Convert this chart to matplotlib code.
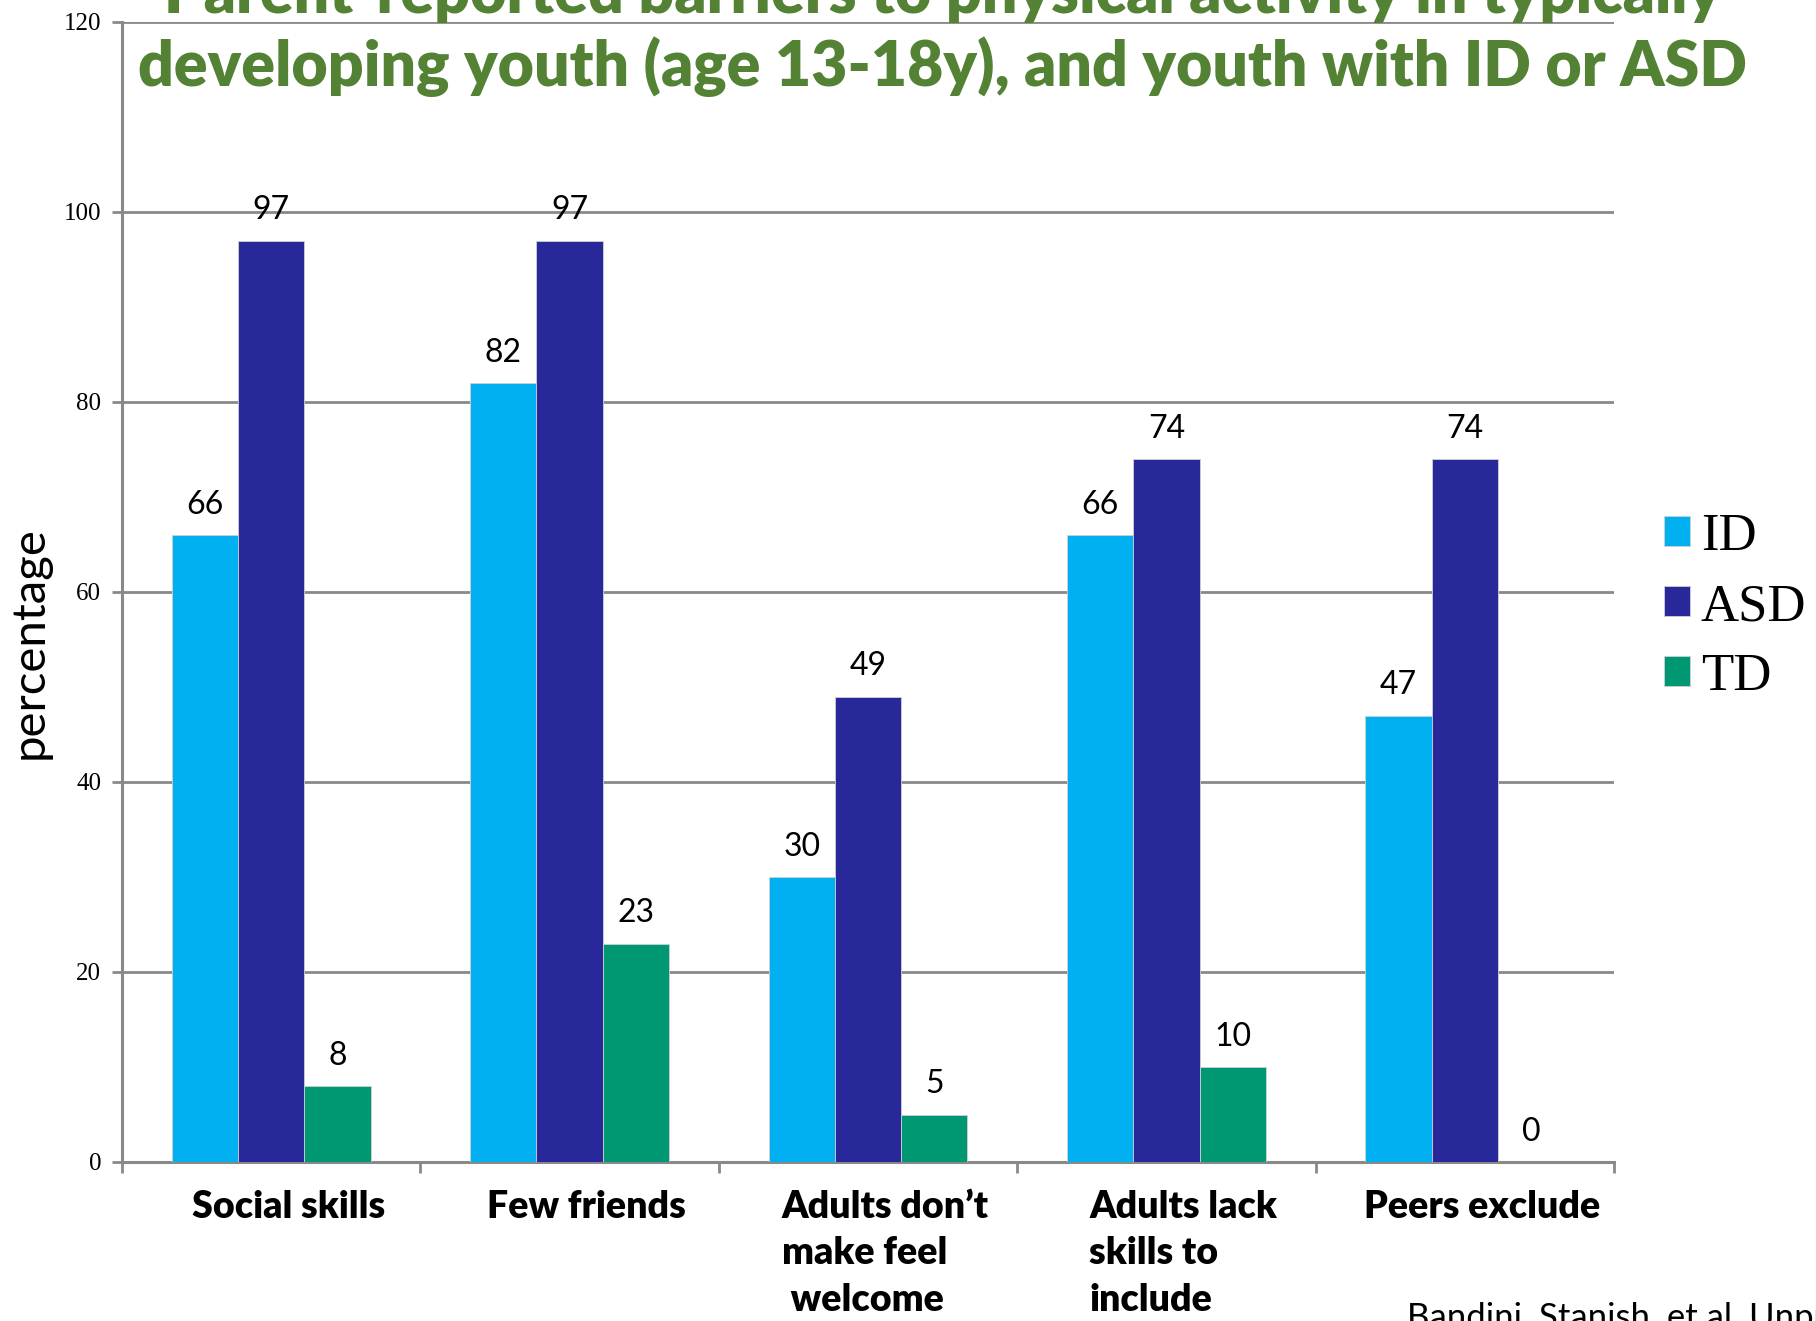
import matplotlib
matplotlib.use("Agg")
import matplotlib.pyplot as plt
import matplotlib.transforms as mtransforms
from matplotlib.patches import Patch
import numpy as np

categories = ["Social skills", "Few friends", "Adults don\u2019t\nmake feel\n welcome",
              "Adults lack\nskills to\ninclude", "Peers exclude"]
series_names = ["ID", "ASD", "TD"]
id_vals = [66, 82, 30, 66, 47]
asd_vals = [97, 97, 49, 74, 74]
td_vals = [8, 23, 5, 10, 0]
colors = ["#00B0F0", "#28289A", "#009872"]
yticks = [0, 20, 40, 60, 80, 100, 120]

title_line1 = "Parent-reported barriers to physical activity in typically"
title_line2 = "developing youth (age 13-18y), and youth with ID or ASD"
ylabel = "percentage"
source = "Bandini, Stanish, et al. Unpublished"

SANS = ["Lato", "DejaVu Sans"]
SERIF = ["Liberation Serif", "DejaVu Serif"]
GRID = "#898989"

fig = plt.figure(figsize=(18.16, 13.21), dpi=100)
ax = fig.add_axes([122/1816, 159/1321, (1614-122)/1816, (1299-159)/1321])

x = np.arange(len(categories))
w = 0.222
for i, (vals, c) in enumerate(zip([id_vals, asd_vals, td_vals], colors)):
    pos = x + (i - 1) * w
    ax.bar(pos, vals, width=w, color=c, edgecolor="#D0D0D0", linewidth=0.6, zorder=3,
           label=series_names[i])
    for p, v in zip(pos, vals):
        ax.annotate(str(v), (p, v), xytext=(0, 11), textcoords="offset points",
                    ha="center", va="bottom", fontsize=23, family=SANS, color="black")

ax.set_xlim(-0.5, len(categories) - 0.5)
ax.set_ylim(0, 120)
ax.set_yticks(yticks)
ax.set_yticklabels([str(t) for t in yticks], family=SERIF, fontsize=18)
ax.yaxis.grid(True, color=GRID, linewidth=2, zorder=0)
ax.set_axisbelow(True)

ax.set_xticks(x)
ax.set_xticklabels(categories, family=SANS, fontweight="heavy", fontsize=27,
                   va="top", linespacing=1.45, multialignment="left")
ax.tick_params(axis="x", length=0, pad=20)
ax.set_xticks(np.arange(len(categories) + 1) - 0.5, minor=True)
ax.tick_params(axis="x", which="minor", length=8, width=2, color=GRID, direction="out")
ax.tick_params(axis="y", length=7, width=2, color=GRID, pad=8)
offset = mtransforms.ScaledTranslation(0.17, 0, fig.dpi_scale_trans)
for lbl in ax.get_xticklabels():
    lbl.set_transform(lbl.get_transform() + offset)

for s in ["top", "right"]:
    ax.spines[s].set_visible(False)
for s in ["left", "bottom"]:
    ax.spines[s].set_color(GRID)
    ax.spines[s].set_linewidth(2.2)

fig.text(30/1816, 1 - 643/1321, ylabel, rotation=90, ha="center", va="center",
         fontsize=34, family=SANS)

fig.text(943/1816, 1 - (-6)/1321, title_line1, ha="center", va="center",
         fontsize=45, fontweight="heavy", family=SANS, color="#548235")
fig.text(943/1816, 1 - 67/1321, title_line2, ha="center", va="center",
         fontsize=45, fontweight="heavy", family=SANS, color="#548235")

handles = [Patch(facecolor=c, edgecolor="#D0D0D0", linewidth=0.6) for c in colors]
fig.legend(handles, series_names, loc="center left", bbox_to_anchor=(1664/1816, 1 - 607/1321),
           frameon=False, prop={"family": SERIF, "size": 38}, handlelength=0.5,
           handleheight=0.5, handletextpad=0.2, labelspacing=0.42, borderaxespad=0,
           borderpad=0)

fig.text(1407/1816, 1 - 1318/1321, source, ha="left", va="center", fontsize=25,
         family=SANS, color="black")

fig.savefig("out.png", dpi=100)
